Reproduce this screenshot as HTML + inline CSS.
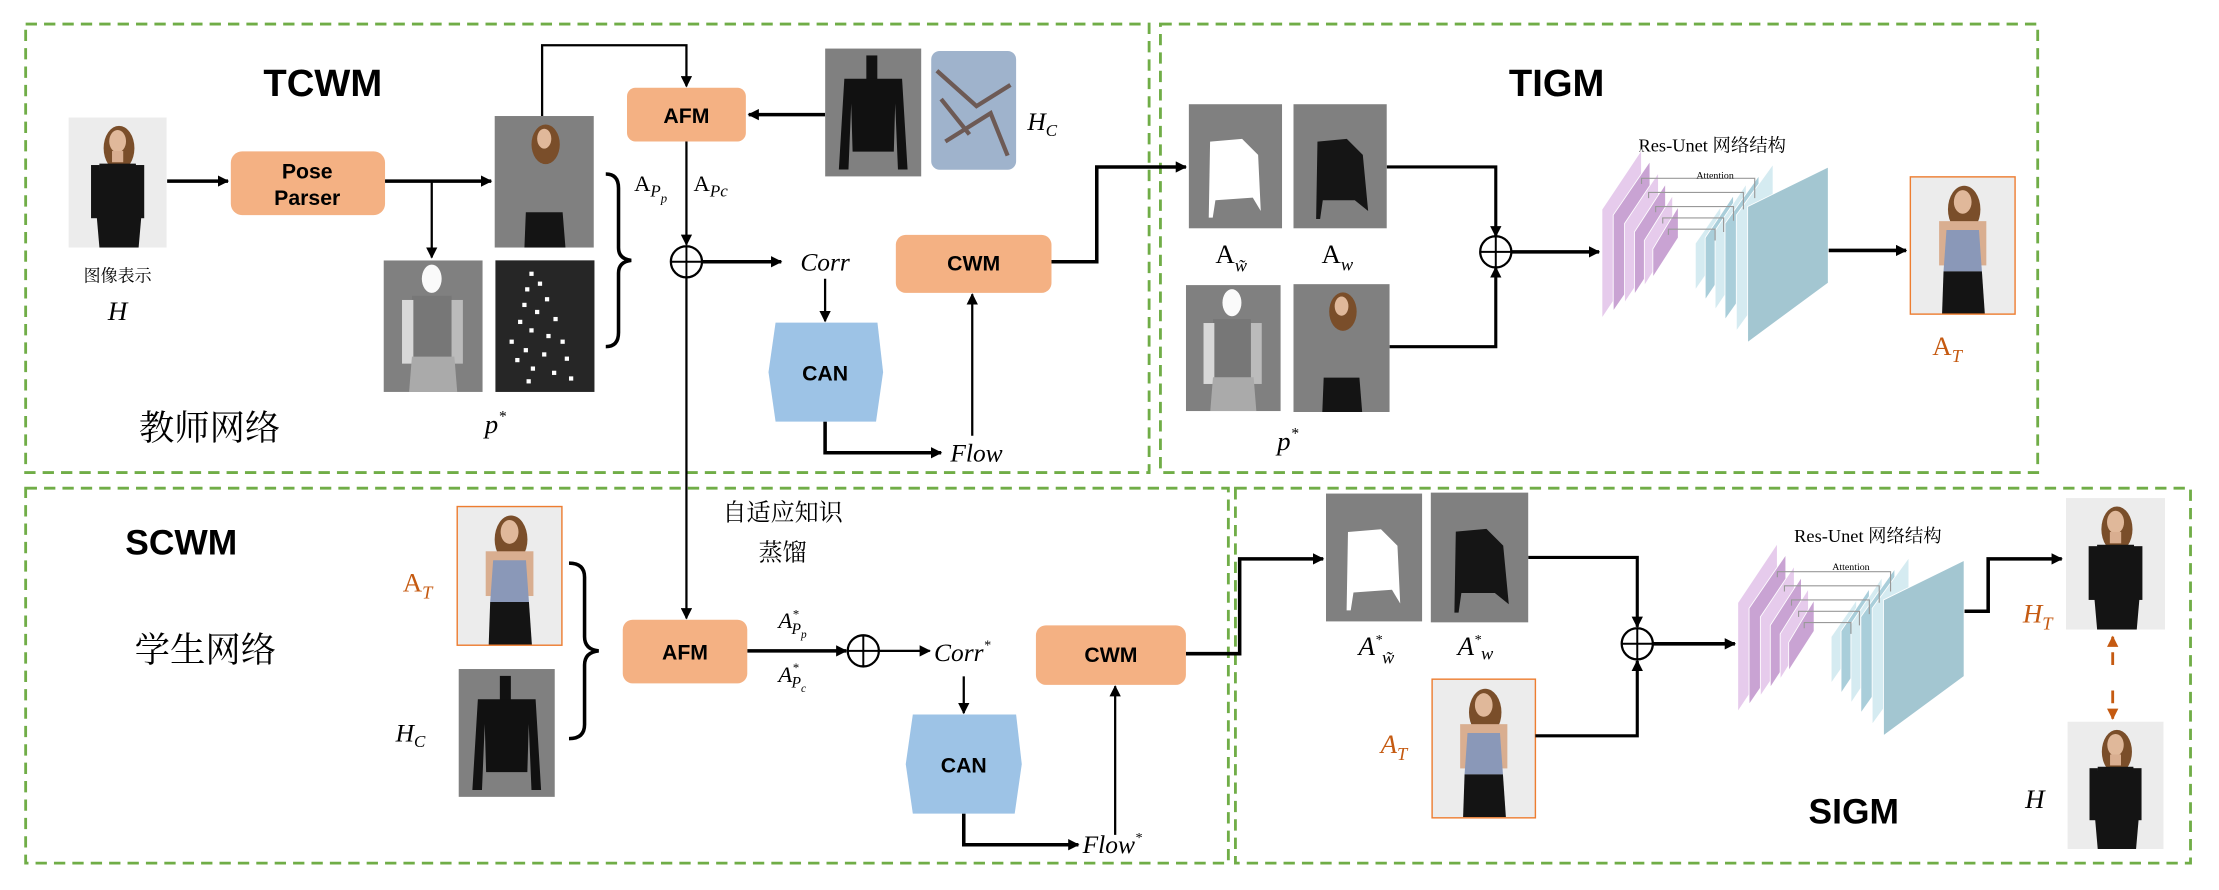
<!DOCTYPE html>
<html><head><meta charset="utf-8"><style>
html,body{margin:0;padding:0;background:#fff;}
svg{display:block;}
.b{font-family:"Liberation Sans",Arial,sans-serif;font-weight:bold;}
.m{font-family:"Liberation Serif","Noto Serif CJK SC",serif;font-style:italic;}
.r{font-family:"Liberation Serif","Noto Serif CJK SC",serif;}
.cn{font-family:"Liberation Serif","Noto Serif CJK SC","Noto Sans CJK SC",serif;}
</style></head><body>
<svg width="2219" height="890" viewBox="0 0 1568 629" xmlns="http://www.w3.org/2000/svg">
<defs>
<marker id="ar" viewBox="0 0 10 10" refX="9" refY="5" markerWidth="8" markerHeight="8" markerUnits="userSpaceOnUse" orient="auto"><path d="M0,0L10,5L0,10z" fill="#000"/></marker>
<marker id="ao" viewBox="0 0 10 10" refX="9" refY="5" markerWidth="8" markerHeight="8" markerUnits="userSpaceOnUse" orient="auto"><path d="M0,0L10,5L0,10z" fill="#C55A11"/></marker>
<symbol id="pb" viewBox="0 0 70 93"><rect width="70" height="93" fill="#ececec"/><ellipse cx="36" cy="22" rx="11" ry="16" fill="#7a4e2a"/><ellipse cx="35" cy="17" rx="6" ry="8" fill="#e0b89a"/><rect x="31" y="24" width="8" height="8" fill="#d9ae90"/><path d="M22,33 L48,33 L52,70 L50,93 L22,93 L20,70z" fill="#141414"/><rect x="16" y="34" width="6" height="38" fill="#141414"/><rect x="48" y="34" width="6" height="38" fill="#141414"/></symbol>
<symbol id="pf" viewBox="0 0 70 93"><rect width="70" height="93" fill="#ececec"/><ellipse cx="36" cy="22" rx="11" ry="16" fill="#7a4e2a"/><ellipse cx="35" cy="17" rx="6" ry="8" fill="#e0b89a"/><rect x="19" y="30" width="32" height="30" fill="#d9ae90"/><path d="M24,36 L46,36 L48,64 L22,64z" fill="#8a98b8"/><path d="M22,64 L48,64 L50,93 L21,93z" fill="#141414"/></symbol>
<symbol id="pg" viewBox="0 0 70 93"><rect width="70" height="93" fill="#808080"/><ellipse cx="36" cy="20" rx="10" ry="14" fill="#7a4e2a"/><ellipse cx="35" cy="16" rx="5" ry="7" fill="#e0b89a"/><path d="M22,68 L48,68 L50,93 L21,93z" fill="#141414"/></symbol>
<symbol id="ps" viewBox="0 0 70 93"><rect width="70" height="93" fill="#808080"/><ellipse cx="34" cy="13" rx="7" ry="10" fill="#fafafa"/><path d="M20,25 L48,25 L50,68 L20,68z" fill="#777"/><rect x="13" y="28" width="8" height="45" fill="#d8d8d8"/><rect x="48" y="28" width="8" height="45" fill="#bbb"/><path d="M20,68 L50,68 L52,93 L18,93z" fill="#aaa"/></symbol>
<symbol id="sh" viewBox="0 0 70 93"><rect width="70" height="93" fill="#808080"/><rect x="30" y="5" width="8" height="18" fill="#111"/><path d="M14,22 L56,22 L60,88 L53,88 L51,40 L50,75 L20,75 L19,40 L17,88 L10,88z" fill="#111"/></symbol>
<symbol id="mk" viewBox="0 0 70 93"><rect width="70" height="93" fill="#808080"/><path d="M16,28 L40,26 L52,38 L54,80 L48,70 L20,72 L18,85 L15,85z" fill="#fff"/></symbol>
<symbol id="ms" viewBox="0 0 70 93"><rect width="70" height="93" fill="#808080"/><path d="M18,28 L40,26 L52,38 L56,80 L46,72 L22,72 L20,86 L17,86z" fill="#151515"/></symbol>
<g id="unet">
<polygon points="1132,225 1132,148 1160,106 1160,183" fill="#E6CBEC" stroke="#fff" stroke-width="0.6"/>
<polygon points="1140,220 1140,152 1166,114 1166,182" fill="#C9A3D3" stroke="#fff" stroke-width="0.6"/>
<polygon points="1148,214 1148,158 1172,122 1172,178" fill="#E6CBEC" stroke="#fff" stroke-width="0.6"/>
<polygon points="1155,208 1155,164 1177,130 1177,174" fill="#C9A3D3" stroke="#fff" stroke-width="0.6"/>
<polygon points="1162,202 1162,170 1182,138 1182,170" fill="#E6CBEC" stroke="#fff" stroke-width="0.6"/>
<polygon points="1168,196 1168,176 1186,146 1186,168" fill="#C9A3D3" stroke="#fff" stroke-width="0.6"/>
<polygon points="1198,205 1198,172 1216,146 1216,179" fill="#D5EBF1" stroke="#fff" stroke-width="0.6"/>
<polygon points="1205,212 1205,168 1225,138 1225,182" fill="#A9CEDA" stroke="#fff" stroke-width="0.6"/>
<polygon points="1212,219 1212,163 1234,130 1234,186" fill="#D5EBF1" stroke="#fff" stroke-width="0.6"/>
<polygon points="1219,226 1219,158 1243,124 1243,192" fill="#A9CEDA" stroke="#fff" stroke-width="0.6"/>
<polygon points="1227,234 1227,152 1253,116 1253,198" fill="#D5EBF1" stroke="#fff" stroke-width="0.6"/>
<polygon points="1235,242 1235,146 1292,118 1292,200" fill="#A3C6D1" stroke="#fff" stroke-width="0.6"/>
<g fill="none" stroke="#999" stroke-width="0.8">
<path d="M1160,130 V126 H1240 V140"/><path d="M1165,140 V136 H1232 V148"/><path d="M1170,150 V146 H1225 V156"/><path d="M1175,158 V154 H1218 V164"/><path d="M1179,166 V162 H1212 V170"/>
</g>
</g>
</defs>

<g fill="none" stroke="#70AD47" stroke-width="2" stroke-dasharray="8 5">
<rect x="18" y="17" width="794" height="317"/>
<rect x="820" y="17" width="620" height="317"/>
<rect x="18" y="345" width="850" height="265"/>
<rect x="873" y="345" width="675" height="265"/>
</g>

<!-- TCWM -->
<text x="228" y="68" class="b" font-size="27" text-anchor="middle">TCWM</text>
<use href="#pb" x="48" y="83" width="70" height="92"/>
<text x="83" y="199" class="cn" font-size="12" text-anchor="middle">图像表示</text>
<text x="83" y="226" class="m" font-size="19" text-anchor="middle">H</text>
<rect x="163" y="107" width="109" height="45" rx="8" fill="#F4B183"/>
<text x="217" y="126" class="b" font-size="15" text-anchor="middle">Pose</text>
<text x="217" y="145" class="b" font-size="15" text-anchor="middle">Parser</text>
<g stroke="#000" stroke-width="2.5" fill="none">
<line x1="118" y1="128" x2="161" y2="128" marker-end="url(#ar)"/>
<line x1="272" y1="128" x2="347" y2="128" marker-end="url(#ar)"/>
</g>
<g stroke="#000" stroke-width="1.6" fill="none">
<line x1="305" y1="128" x2="305" y2="182" marker-end="url(#ar)"/>
<polyline points="383,82 383,32 485,32 485,61" marker-end="url(#ar)"/>
<line x1="583" y1="81" x2="529" y2="81" marker-end="url(#ar)" stroke-width="2.5"/>
<line x1="485" y1="100" x2="485" y2="173" marker-end="url(#ar)"/>
<line x1="485" y1="196" x2="485" y2="437" marker-end="url(#ar)"/>
<line x1="496" y1="185" x2="552" y2="185" marker-end="url(#ar)" stroke-width="2.5"/>
<line x1="583" y1="197" x2="583" y2="227" marker-end="url(#ar)"/>
<polyline points="583,298 583,320 665,320" marker-end="url(#ar)" stroke-width="2.5"/>
<line x1="687" y1="308" x2="687" y2="208" marker-end="url(#ar)"/>
<polyline points="743,185 775,185 775,118 838,118" marker-end="url(#ar)" stroke-width="2.5"/>
<path d="M428,123 Q437,123 437,133 V175 Q437,183 446,184 Q437,185 437,193 V235 Q437,245 428,245" stroke-width="2.5"/>
</g>
<use href="#pg" x="349" y="82" width="71" height="93"/>
<use href="#ps" x="271" y="184" width="70" height="93"/>
<rect x="350" y="184" width="70" height="93" fill="#262626"/>
<g fill="#fff">
<rect x="374" y="192" width="3" height="3"/><rect x="380" y="199" width="3" height="3"/><rect x="371" y="203" width="3" height="3"/><rect x="385" y="210" width="3" height="3"/><rect x="369" y="214" width="3" height="3"/><rect x="378" y="219" width="3" height="3"/><rect x="366" y="226" width="3" height="3"/><rect x="391" y="224" width="3" height="3"/><rect x="374" y="232" width="3" height="3"/><rect x="386" y="236" width="3" height="3"/><rect x="360" y="240" width="3" height="3"/><rect x="396" y="240" width="3" height="3"/><rect x="370" y="246" width="3" height="3"/><rect x="383" y="249" width="3" height="3"/><rect x="364" y="253" width="3" height="3"/><rect x="399" y="252" width="3" height="3"/><rect x="375" y="259" width="3" height="3"/><rect x="390" y="262" width="3" height="3"/><rect x="372" y="268" width="3" height="3"/><rect x="402" y="266" width="3" height="3"/>
</g>
<text x="350" y="306" class="m" font-size="19" text-anchor="middle">p<tspan dy="-8" font-size="11">*</tspan></text>
<text x="148" y="311" class="cn" font-size="25" text-anchor="middle">教师网络</text>
<text x="448" y="135" class="r" font-size="16">A<tspan class="m" font-size="12" dy="4">P</tspan><tspan class="m" font-size="9" dy="4">p</tspan></text>
<text x="490" y="135" class="r" font-size="16">A<tspan class="m" font-size="12" dy="4">Pc</tspan></text>
<rect x="443" y="62" width="84" height="38" rx="6" fill="#F4B183"/>
<text x="485" y="87" class="b" font-size="15" text-anchor="middle">AFM</text>
<use href="#sh" x="583" y="33" width="68" height="93"/>
<rect x="658" y="36" width="60" height="84" rx="6" fill="#9fb3cc"/>
<path d="M662,50 L690,75 L714,60 M668,100 L700,80 L712,110 M665,70 L685,95" stroke="#6d5a55" stroke-width="3" fill="none"/>
<text x="726" y="92" class="m" font-size="18">H<tspan font-size="12" dy="4">C</tspan></text>
<circle cx="485" cy="185" r="11" fill="#fff" stroke="#000" stroke-width="1.6"/>
<path d="M474,185 H496 M485,174 V196" stroke="#000" stroke-width="1.4"/>
<text x="583" y="191" class="m" font-size="18" text-anchor="middle">Corr</text>
<polygon points="548,228 620,228 624,263 619,298 548,298 543,263" fill="#9DC3E6"/>
<text x="583" y="269" class="b" font-size="15" text-anchor="middle">CAN</text>
<text x="690" y="326" class="m" font-size="18" text-anchor="middle">Flow</text>
<rect x="633" y="166" width="110" height="41" rx="7" fill="#F4B183"/>
<text x="688" y="191" class="b" font-size="15" text-anchor="middle">CWM</text>

<!-- TIGM -->
<text x="1100" y="68" class="b" font-size="27" text-anchor="middle">TIGM</text>
<use href="#mk" x="840" y="72" width="66" height="91"/>
<use href="#ms" x="914" y="72" width="66" height="91"/>
<text x="870" y="186" class="r" font-size="19" text-anchor="middle">A<tspan class="m" font-size="13" dy="6">w̃</tspan></text>
<text x="945" y="186" class="r" font-size="19" text-anchor="middle">A<tspan class="m" font-size="13" dy="5">w</tspan></text>
<use href="#ps" x="838" y="200" width="67" height="92"/>
<use href="#pg" x="914" y="200" width="68" height="92"/>
<text x="910" y="318" class="m" font-size="19" text-anchor="middle">p<tspan dy="-8" font-size="11">*</tspan></text>
<g stroke="#000" stroke-width="2.2" fill="none">
<polyline points="980,118 1057,118 1057,167" marker-end="url(#ar)"/>
<polyline points="982,245 1057,245 1057,189" marker-end="url(#ar)"/>
<line x1="1068" y1="178" x2="1130" y2="178" marker-end="url(#ar)" stroke-width="2.5"/>
<line x1="1290" y1="177" x2="1347" y2="177" marker-end="url(#ar)" stroke-width="2.5"/>
</g>
<circle cx="1057" cy="178" r="11" fill="#fff" stroke="#000" stroke-width="1.6"/>
<path d="M1046,178 H1068 M1057,167 V189" stroke="#000" stroke-width="1.4"/>
<text x="1210" y="107" class="cn" font-size="13" text-anchor="middle">Res-Unet 网络结构</text>
<use href="#unet"/>
<text x="1212" y="126" class="r" font-size="7" text-anchor="middle">Attention</text>
<use href="#pf" x="1350" y="125" width="74" height="97"/>
<rect x="1350" y="125" width="74" height="97" fill="none" stroke="#ED7D31" stroke-width="1"/>
<text x="1376" y="251" class="r" font-size="19" fill="#C55A11" text-anchor="middle">A<tspan class="m" font-size="13" dy="5">T</tspan></text>

<!-- SCWM -->
<text x="128" y="392" class="b" font-size="25" text-anchor="middle">SCWM</text>
<text x="145" y="468" class="cn" font-size="25" text-anchor="middle">学生网络</text>
<use href="#pf" x="323" y="358" width="74" height="98"/>
<rect x="323" y="358" width="74" height="98" fill="none" stroke="#ED7D31" stroke-width="1"/>
<text x="295" y="418" class="r" font-size="19" fill="#C55A11" text-anchor="middle">A<tspan class="m" font-size="13" dy="5">T</tspan></text>
<use href="#sh" x="324" y="472" width="68" height="92"/>
<text x="290" y="524" class="m" font-size="18" text-anchor="middle">H<tspan font-size="12" dy="4">C</tspan></text>
<g stroke="#000" stroke-width="1.6" fill="none">
<path d="M402,398 Q413,398 413,408 V450 Q413,459 423,460 Q413,461 413,470 V512 Q413,522 402,522" stroke-width="2.5"/>
<line x1="528" y1="460" x2="598" y2="460" marker-end="url(#ar)" stroke-width="2.5"/>
<line x1="621" y1="460" x2="657" y2="460" marker-end="url(#ar)"/>
<line x1="681" y1="478" x2="681" y2="504" marker-end="url(#ar)"/>
<polyline points="681,575 681,597 762,597" marker-end="url(#ar)" stroke-width="2.5"/>
<line x1="788" y1="590" x2="788" y2="485" marker-end="url(#ar)"/>
<polyline points="838,462 876,462 876,395 935,395" marker-end="url(#ar)" stroke-width="2.5"/>
</g>
<rect x="440" y="438" width="88" height="45" rx="7" fill="#F4B183"/>
<text x="484" y="466" class="b" font-size="15" text-anchor="middle">AFM</text>
<text x="550" y="444" class="m" font-size="16">A<tspan font-size="9" dy="-7">*</tspan><tspan font-size="11" dx="-5" dy="11">P</tspan><tspan font-size="8" dy="3">p</tspan></text>
<text x="550" y="482" class="m" font-size="16">A<tspan font-size="9" dy="-7">*</tspan><tspan font-size="11" dx="-5" dy="11">P</tspan><tspan font-size="8" dy="3">c</tspan></text>
<circle cx="610" cy="460" r="11" fill="#fff" stroke="#000" stroke-width="1.6"/>
<path d="M599,460 H621 M610,449 V471" stroke="#000" stroke-width="1.4"/>
<text x="660" y="467" class="m" font-size="18">Corr<tspan font-size="10" dy="-8">*</tspan></text>
<polygon points="645,505 718,505 722,540 717,575 645,575 640,540" fill="#9DC3E6"/>
<text x="681" y="546" class="b" font-size="15" text-anchor="middle">CAN</text>
<text x="765" y="603" class="m" font-size="18">Flow<tspan font-size="10" dy="-8">*</tspan></text>
<rect x="732" y="442" width="106" height="42" rx="7" fill="#F4B183"/>
<text x="785" y="468" class="b" font-size="15" text-anchor="middle">CWM</text>
<text x="553" y="368" class="cn" font-size="17" text-anchor="middle">自适应知识</text>
<text x="553" y="396" class="cn" font-size="17" text-anchor="middle">蒸馏</text>

<!-- SIGM -->
<use href="#mk" x="937" y="348" width="68" height="92"/>
<use href="#ms" x="1011" y="348" width="69" height="92"/>
<text x="960" y="463" class="m" font-size="19">A<tspan font-size="10" dy="-8">*</tspan><tspan font-size="13" dy="14">w̃</tspan></text>
<text x="1030" y="463" class="m" font-size="19">A<tspan font-size="10" dy="-8">*</tspan><tspan font-size="13" dy="11">w</tspan></text>
<use href="#pf" x="1012" y="480" width="73" height="98"/>
<rect x="1012" y="480" width="73" height="98" fill="none" stroke="#ED7D31" stroke-width="1"/>
<text x="985" y="532" class="m" font-size="19" fill="#C55A11" text-anchor="middle">A<tspan font-size="13" dy="5">T</tspan></text>
<g stroke="#000" stroke-width="2.2" fill="none">
<polyline points="1080,394 1157,394 1157,443" marker-end="url(#ar)"/>
<polyline points="1085,520 1157,520 1157,467" marker-end="url(#ar)"/>
<line x1="1168" y1="455" x2="1226" y2="455" marker-end="url(#ar)" stroke-width="2.5"/>
<polyline points="1386,432 1405,432 1405,395 1457,395" marker-end="url(#ar)" stroke-width="2.5"/>
</g>
<circle cx="1157" cy="455" r="11" fill="#fff" stroke="#000" stroke-width="1.6"/>
<path d="M1146,455 H1168 M1157,444 V466" stroke="#000" stroke-width="1.4"/>
<text x="1320" y="383" class="cn" font-size="13" text-anchor="middle">Res-Unet 网络结构</text>
<use href="#unet" transform="translate(96,278)"/>
<text x="1308" y="403" class="r" font-size="7" text-anchor="middle">Attention</text>
<use href="#pb" x="1460" y="352" width="70" height="93"/>
<use href="#pb" x="1460" y="510" width="70" height="90"/>
<text x="1440" y="440" class="m" font-size="19" fill="#C55A11" text-anchor="middle">H<tspan font-size="13" dy="5">T</tspan></text>
<text x="1438" y="571" class="m" font-size="19" text-anchor="middle">H</text>
<g stroke="#C55A11" stroke-width="2" fill="none" stroke-dasharray="9 6">
<line x1="1493" y1="470" x2="1493" y2="450" marker-end="url(#ao)"/>
<line x1="1493" y1="488" x2="1493" y2="508" marker-end="url(#ao)"/>
</g>
<text x="1310" y="582" class="b" font-size="25" text-anchor="middle">SIGM</text>
</svg>
</body></html>
